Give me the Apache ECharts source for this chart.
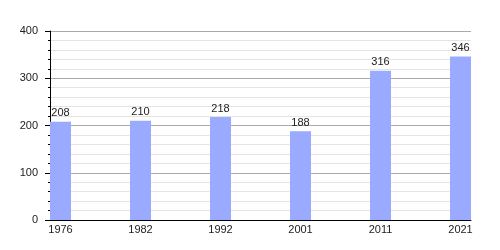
<!DOCTYPE html>
<html><head><meta charset="utf-8">
<script src="https://cdn.jsdelivr.net/npm/echarts@6/dist/echarts.min.js"></script>
<style>html,body{margin:0;padding:0;background:#fff}#c{width:500px;height:250px}</style>
</head><body><div id="c"></div>
<script>
const years = ['1976','1982','1992','2001','2011','2021'];
const values = [208, 210, 218, 188, 316, 346];
const yTicks = [0, 100, 200, 300, 400];

const chart = echarts.init(document.getElementById('c'), null, {renderer:'canvas'});
const idx = years.map((_, i) => i);
chart.setOption({
  animation: false,
  grid: {left: 50, right: 29, top: 31, bottom: 30},
  xAxis: {
    type: 'value', min: -0.13125, max: 5.13125,
    axisLine: {show: true, onZero: false, lineStyle: {color: '#000', width: 1}},
    axisTick: {show: false},
    splitLine: {show: false},
    axisLabel: {
      customValues: idx, margin: 4,
      color: '#222', fontSize: 11, fontFamily: 'Liberation Sans, Arial, sans-serif',
      formatter: v => years[Math.round(v)]
    }
  },
  yAxis: {
    type: 'value', min: yTicks[0], max: yTicks[yTicks.length-1], interval: 100,
    axisLine: {show: true, onZero: false, lineStyle: {color: '#000', width: 1}},
    axisTick: {show: true, length: 5, lineStyle: {color: '#000'}},
    minorTick: {show: true, splitNumber: 5, length: 2, lineStyle: {color: '#000'}},
    splitLine: {show: true, lineStyle: {color: '#aaa', width: 1}},
    minorSplitLine: {show: true, lineStyle: {color: '#e4e4e4', width: 1}},
    axisLabel: {margin: 12, color: '#222', fontSize: 11, fontFamily: 'Liberation Sans, Arial, sans-serif'}
  },
  series: [{
    type: 'bar', barWidth: 21,
    data: values.map((v, i) => [i, v]),
    itemStyle: {color: '#99aaff'},
    label: {show: true, position: 'top', distance: 3, color: '#222', fontSize: 11,
            fontFamily: 'Liberation Sans, Arial, sans-serif', formatter: p => p.value[1]}
  }]
});
</script></body></html>
